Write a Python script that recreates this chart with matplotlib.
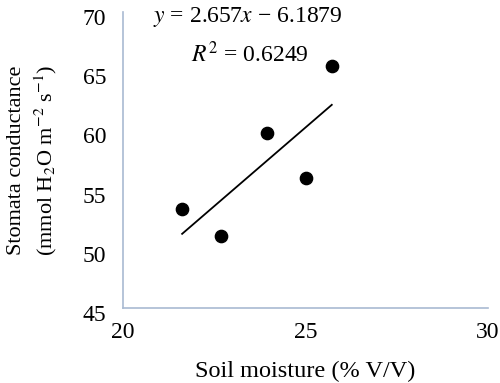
import numpy as np
import matplotlib.pyplot as plt
import matplotlib.transforms as mtransforms

# ====================================
# data
# ====================================

soil_moisture = [21.62, 22.68, 23.95, 25.01, 25.72]
conductance = [53.34, 51.11, 59.78, 55.98, 65.44]

slope = 2.657
intercept = -6.1879
r_squared = 0.6249

x_ticks = [20, 25, 30]
y_ticks = [45, 50, 55, 60, 65, 70]

# ====================================
# style
# ====================================

plt.rcParams['font.family'] = ['Liberation Serif', 'DejaVu Serif']
plt.rcParams['mathtext.fontset'] = 'stix'

fig = plt.figure(figsize=(5, 3.83), dpi=100)
ax = fig.add_axes([0.246, 0.196, 0.73, 0.773])

ax.scatter(soil_moisture, conductance, s=78, color='black', zorder=3)

# linear trendline over data range
x_fit = np.array([min(soil_moisture), max(soil_moisture)])
y_fit = slope * x_fit + intercept
ax.plot(x_fit, y_fit, color='black', linewidth=1.3)

ax.set_xlim(20, 30)
ax.set_ylim(45, 70)
ax.set_xticks(x_ticks)
ax.set_yticks(y_ticks)
ax.tick_params(length=0, labelsize=17)
ax.tick_params(axis='y', pad=12)
ax.tick_params(axis='x', pad=10)

for side in ['top', 'right']:
    ax.spines[side].set_visible(False)
for side in ['left', 'bottom']:
    ax.spines[side].set_color('#a9bad2')
    ax.spines[side].set_linewidth(1.2)

# y tick labels sit slightly low, as in the original
offset = mtransforms.ScaledTranslation(0, -5 / 100, fig.dpi_scale_trans)
for label in ax.get_yticklabels():
    label.set_transform(label.get_transform() + offset)

ax.set_xlabel("Soil moisture (% V/V)", fontsize=17.5, labelpad=13)
ax.set_ylabel("Stomata conductance\n(mmol H$_2$O m$^{-2}$ s$^{-1}$)",
              fontsize=16, labelpad=17, linespacing=1.35)

eq_text = f"$y$ = {slope}$x$ \u2212 {-intercept}"
ax.text(23.42, 69.6, eq_text, fontsize=17, ha='center', va='center')
ax.text(23.48, 66.4, f"$R^2$ = {r_squared}",
        fontsize=17, ha='center', va='center')

fig.savefig("out.png", dpi=100)
